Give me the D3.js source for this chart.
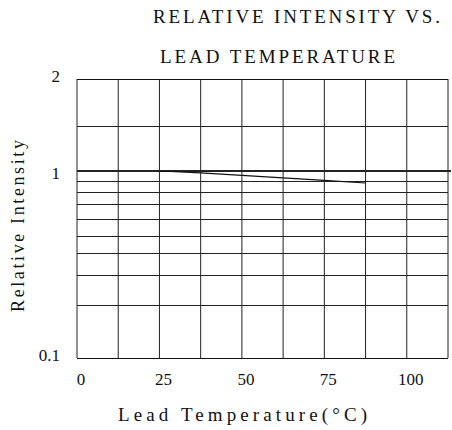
<!DOCTYPE html>
<html>
<head>
<meta charset="utf-8">
<script src="https://cdn.jsdelivr.net/npm/d3@7"></script>
<style>
  html, body { margin: 0; padding: 0; background: #fff; }
  text { font-family: "Liberation Serif", "DejaVu Serif", serif; fill: #111; }
</style>
</head>
<body>
<svg id="chart" width="452" height="430"></svg>
<script>
// ---- data ----
const temperatures = [25, 37.5, 50, 62.5, 75, 87.5];           // Lead temperature (°C)
const relIntensity = [1.0, 0.98, 0.955, 0.93, 0.905, 0.88];    // relative intensity
const xTickLabels = [0, 25, 50, 75, 100];
const yTickLabels = [{v: 2, t: "2"}, {v: 1, t: "1"}, {v: 0.1, t: "0.1"}];
const xGridValues = d3.range(0, 112.5 + 0.001, 12.5);
const yGridValues = [0.2, 0.3, 0.4, 0.5, 0.6, 0.7, 0.8, 0.9, 1.5];

(function () {
const svg = d3.select("#chart");
const pLeft = 77, pRight = 448, pTop = 79, pBottom = 358;

const x = d3.scaleLinear().domain([0, 112.5]).range([pLeft, pRight]);
// piecewise log scale reproducing the chart's printed grid
const y = d3.scaleLog().domain([0.1, 0.5, 1, 1.5, 2]).range([pBottom, 236, 171, 126, pTop]);

const g = svg.append("g");

// vertical grid
g.selectAll("line.vx").data(xGridValues).enter().append("line")
  .attr("x1", d => x(d)).attr("x2", d => x(d))
  .attr("y1", pTop).attr("y2", pBottom)
  .attr("stroke", "#222").attr("stroke-width", 1);

// horizontal grid
g.selectAll("line.hy").data(yGridValues).enter().append("line")
  .attr("x1", pLeft).attr("x2", pRight)
  .attr("y1", d => Math.round(y(d)) + 0.5).attr("y2", d => Math.round(y(d)) + 0.5)
  .attr("stroke", "#222").attr("stroke-width", 1);

// frame top / bottom
[2, 0.1].forEach(v => {
  g.append("line").attr("x1", pLeft).attr("x2", pRight)
    .attr("y1", Math.round(y(v)) + 0.5).attr("y2", Math.round(y(v)) + 0.5)
    .attr("stroke", "#111").attr("stroke-width", 1);
});

// the "1" reference line (heavier, extends past the frame)
g.append("line").attr("x1", pLeft).attr("x2", 451)
  .attr("y1", y(1)).attr("y2", y(1))
  .attr("stroke", "#222").attr("stroke-width", 2);

// data curve
const line = d3.line().x(d => x(d)).y((d, i) => y(relIntensity[i]));
g.append("path").datum(temperatures)
  .attr("d", line)
  .attr("fill", "none").attr("stroke", "#111").attr("stroke-width", 1.2);

// y tick labels
svg.selectAll("text.yt").data(yTickLabels).enter().append("text")
  .attr("x", 60).attr("y", d => y(d.v) + (d.v === 1 ? 2 : -3))
  .attr("text-anchor", "end").attr("dominant-baseline", "central")
  .attr("font-size", 17)
  .text(d => d.t);

// x tick labels
svg.selectAll("text.xt").data(xTickLabels).enter().append("text")
  .attr("x", d => x(d) + 4).attr("y", 379)
  .attr("text-anchor", "middle").attr("dominant-baseline", "central")
  .attr("font-size", 17)
  .text(d => d);

// titles
svg.append("text").attr("x", 153).attr("y", 23)
  .attr("font-size", 19).attr("textLength", 287).attr("lengthAdjust", "spacing")
  .text("RELATIVE  INTENSITY  VS.");
svg.append("text").attr("x", 160).attr("y", 63)
  .attr("font-size", 19).attr("textLength", 235).attr("lengthAdjust", "spacing")
  .text("LEAD  TEMPERATURE");

// axis titles
svg.append("text").attr("x", 118).attr("y", 421)
  .attr("font-size", 19).attr("textLength", 249).attr("lengthAdjust", "spacing")
  .text("Lead Temperature(\u00B0C)");
svg.append("text")
  .attr("transform", "translate(24,226) rotate(-90)")
  .attr("text-anchor", "middle")
  .attr("font-size", 18).attr("textLength", 172).attr("lengthAdjust", "spacing")
  .text("Relative Intensity");
})();
</script>
</body>
</html>
